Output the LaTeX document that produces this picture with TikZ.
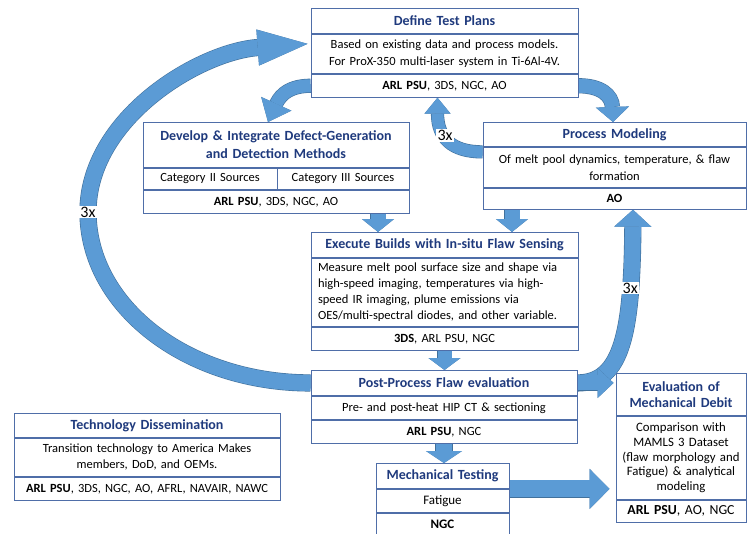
\documentclass[tikz,border=0pt]{standalone}
\usepackage{fontspec}
\setmainfont{Carlito}
\usetikzlibrary{arrows.meta,calc}
\definecolor{titleblue}{HTML}{1F3A7D}
\definecolor{boxline}{HTML}{4F6EA8}
\definecolor{arrfill}{HTML}{5B9BD5}
\definecolor{arrline}{HTML}{41719C}
\newcommand\bodyf{\fontsize{12.5}{17}\selectfont}
\newcommand\execf{\fontsize{12.5}{15.8}\selectfont}
\newcommand\titlef{\fontsize{14}{18}\selectfont\bfseries}
\newcommand\evaltf{\fontsize{14}{16.5}\selectfont\bfseries}
\newcommand\evalf{\fontsize{12.8}{14.6}\selectfont}
\newcommand\evalff{\fontsize{13.8}{16}\selectfont}
\newcommand\numf{\fontsize{16}{18}\selectfont}
\pgfdeclarelayer{bg}
\pgfsetlayers{bg,main}
\tikzset{
  row/.style={draw=boxline, line width=0.9pt, fill=white, anchor=north, inner xsep=4pt, inner ysep=0pt, align=center, font=\bodyf, text=black},
  ttl/.style={font=\titlef, text=titleblue},
  blockarr/.style n args={3}{draw=arrfill, line width=#1, -{Triangle[width=#2,length=#3,line width=0pt]},
    preaction={draw=arrline, line width=#1+1.2pt, -{Triangle[width=#2,length=#3,line width=1.2pt]}}},
  loopnum/.style={font=\numf, fill=white, inner xsep=1.5pt, inner ysep=1pt, text=black}
}
\begin{document}
\begin{tikzpicture}[x=1pt,y=-1pt]
\begin{pgfonlayer}{bg}
\path[fill=white] (0,0) rectangle (747,533);
\end{pgfonlayer}
\useasboundingbox (0,0) rectangle (747,533);

% Define Test Plans
\node[row, ttl, text width=259pt, minimum height=25pt] (dtpT) at (444.5,8) {Define Test Plans};
\node[row, text width=259pt, minimum height=39pt] (dtpB) at (dtpT.south) {Based on existing data and process models.\\For ProX-350 multi-laser system in Ti-6Al-4V.};
\node[row, text width=259pt, minimum height=23pt] (dtpF) at (dtpB.south) {\textbf{ARL PSU}, 3DS, NGC, AO};

% Develop & Integrate
\node[row, ttl, text width=258pt, minimum height=45pt] (devT) at (276,122) {Develop \& Integrate Defect-Generation\\and Detection Methods};
\node[row, anchor=north west, text width=126pt, minimum height=21pt] (devL) at (devT.south west) {Category II Sources};
\node[row, anchor=north east, text width=124pt, minimum height=21pt] (devR) at (devT.south east) {Category III Sources};
\node[row, text width=258pt, minimum height=23pt] (devF) at (devL.south -| devT.south) {\textbf{ARL PSU}, 3DS, NGC, AO};

% Process Modeling
\node[row, ttl, text width=255pt, minimum height=24pt] (pmT) at (614.5,122) {Process Modeling};
\node[row, text width=255pt, minimum height=40pt] (pmB) at (pmT.south) {Of melt pool dynamics, temperature, \& flaw\\formation};
\node[row, text width=255pt, minimum height=21pt] (pmF) at (pmB.south) {\textbf{AO}};

% Execute Builds
\node[row, ttl, text width=259pt, minimum height=25pt] (execT) at (444.5,232) {Execute Builds with In-situ Flaw Sensing};
\node[row, font=\execf, inner xsep=7pt, align=left, text width=253pt, minimum height=68pt] (execB) at (execT.south) {Measure melt pool surface size and shape via\\high-speed imaging, temperatures via high-\\speed IR imaging, plume emissions via\\OES/multi-spectral diodes, and other variable.};
\node[row, text width=259pt, minimum height=23pt] (execF) at (execB.south) {\textbf{3DS}, ARL PSU, NGC};

% Post-Process
\node[row, ttl, text width=258pt, minimum height=25pt] (postT) at (444,370) {Post-Process Flaw evaluation};
\node[row, text width=258pt, minimum height=23pt] (postB) at (postT.south) {Pre- and post-heat HIP CT \& sectioning};
\node[row, text width=258pt, minimum height=23pt] (postF) at (postB.south) {\textbf{ARL PSU}, NGC};

% Mechanical Testing
\node[row, ttl, text width=125pt, minimum height=25pt] (mechT) at (442.5,463) {Mechanical Testing};
\node[row, font=\fontsize{13}{16}\selectfont, text width=125pt, minimum height=23pt] (mechB) at (mechT.south) {Fatigue};
\node[row, font=\fontsize{13}{16}\selectfont, text width=125pt, minimum height=22pt] (mechF) at (mechB.south) {\textbf{NGC}};

% Technology Dissemination
\node[row, ttl, text width=258pt, minimum height=24pt] (techT) at (147,413) {Technology Dissemination};
\node[row, font=\fontsize{12.5}{16}\selectfont, text width=258pt, minimum height=38pt] (techB) at (techT.south) {Transition technology to America Makes\\members, DoD, and OEMs.};
\node[row, text width=258pt, minimum height=23pt] (techF) at (techB.south) {\textbf{ARL PSU}, 3DS, NGC, AO, AFRL, NAVAIR, NAWC};

% Evaluation of Mechanical Debit
\node[row, ttl, font=\evaltf, inner xsep=3pt, text width=124pt, minimum height=42pt] (evalT) at (681,373) {Evaluation of\\Mechanical Debit};
\node[row, font=\evalf, inner xsep=3pt, text width=124pt, minimum height=83pt] (evalB) at (evalT.south) {Comparison with\\MAMLS 3 Dataset\\(flaw morphology and\\Fatigue) \& analytical\\modeling};
\node[row, font=\evalff, inner xsep=3pt, text width=124pt, minimum height=22pt] (evalF) at (evalB.south) {\textbf{ARL PSU}, AO, NGC};

\begin{pgfonlayer}{bg}
% big loop back to test plans
\coordinate (loopL) at (88,212);
\draw[blockarr={16pt}{36pt}{50pt}] (postT.west) .. controls +(-124,0) and +(0,94) .. (loopL)
  .. controls +(0,-94) and +(-108,8) .. ([xshift=-3pt,yshift=10pt]dtpB.west);
% test plans -> develop
\draw[blockarr={13pt}{33pt}{20pt}] (dtpF.west) .. controls +(-26,0) and +(10,-22) .. ([xshift=-8pt]devT.north);
% test plans -> process modeling
\draw[blockarr={14pt}{33pt}{15pt}] (dtpF.east) .. controls +(22,0) and +(-1,-27) .. ([xshift=-1.5pt]pmT.north);
% process modeling -> test plans (3x)
\draw[blockarr={12pt}{26pt}{16pt}] ([yshift=-5pt]pmB.north west) .. controls +(-31,0) and +(0,40) .. ([xshift=-7pt]dtpF.south) coordinate[pos=0.58] (lblDat);
% develop / PM -> execute
\draw[blockarr={15pt}{32pt}{13pt}] ([xshift=102pt]devF.south) -- ([xshift=-66.5pt]execT.north);
\draw[blockarr={15pt}{32pt}{13pt}] ([xshift=-102.5pt]pmF.south) -- ([xshift=67.5pt]execT.north);
% execute -> post
\draw[blockarr={14pt}{32pt}{12pt}] (execF.south) -- (execF.south |- postT.north);
% post -> mech
\draw[blockarr={16pt}{36pt}{12pt}] (postF.south) -- (postF.south |- mechT.north);
% post -> PM (3x)
\draw[blockarr={16pt}{37pt}{17pt}] (postT.east) .. controls +(45,0) and +(-1,122) .. ([xshift=18.5pt]pmF.south) coordinate[pos=0.75] (lblEat);
% post -> eval
\draw[blockarr={15pt}{30pt}{16pt}] (postT.east) -- ($(postT.east -| evalT.west)+(-2,0)$);
% mech -> eval
\draw[blockarr={17pt}{40pt}{20pt}] (mechT.south east) -- ($(mechT.south east -| evalB.west)+(-6,0)$);
\end{pgfonlayer}

\node[loopnum] (lblA) at (loopL) {3x};
\node[loopnum] (lblD) at (lblDat) {3x};
\node[loopnum] (lblE) at (lblEat) {3x};
\end{tikzpicture}
\end{document}
